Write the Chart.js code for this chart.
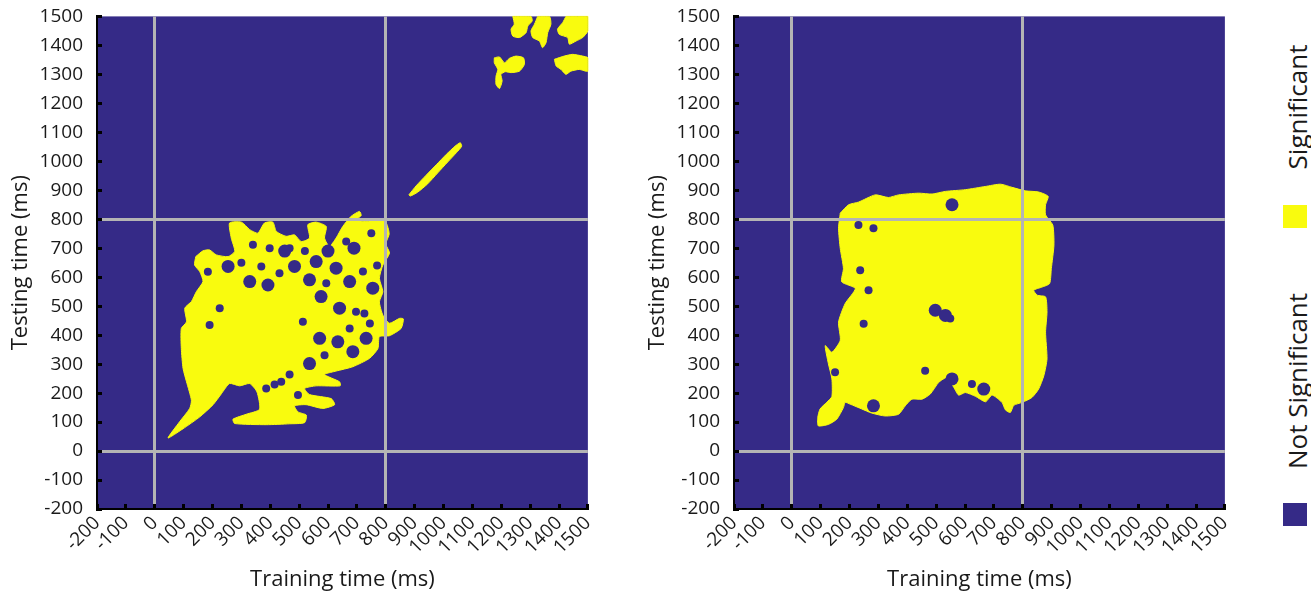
<!DOCTYPE html>
<html>
<head>
<meta charset="utf-8">
<title>Temporal generalization</title>
<script src="https://cdn.jsdelivr.net/npm/chart.js@4.4.1/dist/chart.umd.min.js"></script>
<style>
  body { margin: 0; background: #fff; width: 1311px; height: 592px; position: relative; overflow: hidden; font-family: 'Open Sans', sans-serif; color: #1a1a1a; }
  .panel { position: absolute; top: -14px; width: 612px; height: 607px; }
  #leftPanel { left: 0; }
  #rightPanel { left: 637px; }
  .legendText { position: absolute; white-space: nowrap; font-size: 26px; transform: translate(-50%, -50%) rotate(-90deg); }
  .legendBox { position: absolute; width: 24px; height: 23px; }
</style>
</head>
<body>
<div class="panel" id="leftPanel"><canvas id="leftChart"></canvas></div>
<div class="panel" id="rightPanel"><canvas id="rightChart"></canvas></div>

<div class="legendText" style="left:1297px; top:107px;">Significant</div>
<div class="legendBox" style="left:1283px; top:205px; background:#f9fb0e;"></div>
<div class="legendText" style="left:1297px; top:381px;">Not Significant</div>
<div class="legendBox" style="left:1283px; top:503px; background:#352a87;"></div>

<script>
'use strict';

// axes (ms)
const timeMin = -200;
const timeMax = 1500;
const tickStep = 100;
const markerTimes = [0, 800];

const sigColor = '#f9fb0e';
const notSigColor = '#352a87';

// left panel: significant clusters, [training, testing]
const leftMainBlob = [
    [142, 671], [167, 691], [190, 694], [213, 677], [254, 671], [277, 689], [265, 735], [259, 787],
    [300, 790], [329, 764], [357, 752], [380, 787], [409, 790], [421, 758], [455, 741], [484, 746],
    [507, 723], [536, 735], [530, 781], [559, 790], [594, 775], [588, 735], [605, 706], [628, 735],
    [651, 775], [680, 810], [709, 827], [715, 813], [698, 798], [732, 792], [767, 798], [799, 792],
    [812, 750], [800, 715], [813, 683], [790, 642], [778, 596], [790, 550], [778, 515], [790, 469],
    [813, 441], [848, 458], [861, 456], [853, 423], [813, 398], [778, 395], [773, 354], [744, 320],
    [686, 291], [628, 276], [588, 264], [640, 239], [642, 225], [559, 225], [519, 216], [536, 195],
    [611, 181], [623, 160], [582, 147], [524, 160], [484, 156], [496, 135], [525, 124], [519, 98],
    [467, 94], [386, 91], [277, 95], [271, 110], [317, 127], [363, 144], [354, 204], [329, 233],
    [294, 225], [259, 233], [231, 198], [202, 160], [156, 118], [98, 77], [46, 45], [86, 101],
    [121, 147], [127, 175], [110, 239], [98, 285], [92, 354], [92, 423], [110, 446], [104, 493],
    [127, 516], [144, 550], [167, 585], [156, 619], [138, 642], [142, 671]
];
const leftDiagonal = [
    [880, 884], [905, 915], [940, 952], [975, 988], [1010, 1024], [1040, 1052], [1058, 1064],
    [1063, 1052], [1045, 1030], [1015, 998], [980, 960], [945, 922], [910, 893], [885, 880], [880, 884]
];
const leftLateY = [
    [1176, 1357], [1194, 1360], [1211, 1340], [1228, 1355], [1251, 1363], [1277, 1357], [1280, 1334],
    [1263, 1311], [1234, 1306], [1214, 1309], [1199, 1300], [1203, 1277], [1194, 1251], [1182, 1265],
    [1182, 1294], [1188, 1317], [1176, 1340], [1176, 1357]
];
const leftLateA = [
    [1240, 1500], [1303, 1500], [1307, 1484], [1292, 1467], [1286, 1444], [1263, 1427], [1240, 1432],
    [1234, 1456], [1245, 1473], [1240, 1500]
];
const leftLateB = [
    [1326, 1500], [1367, 1500], [1372, 1473], [1361, 1444], [1355, 1409], [1343, 1392], [1332, 1415],
    [1309, 1427], [1303, 1450], [1315, 1473], [1326, 1500]
];
const leftLateC = [
    [1424, 1500], [1500, 1500], [1500, 1450], [1482, 1427], [1459, 1415], [1436, 1404], [1430, 1427],
    [1401, 1438], [1395, 1456], [1413, 1479], [1424, 1500]
];
const leftLateD = [
    [1384, 1352], [1418, 1363], [1447, 1369], [1482, 1363], [1500, 1357], [1500, 1311], [1470, 1317],
    [1441, 1311], [1424, 1300], [1407, 1317], [1390, 1329], [1384, 1352]
];
// non-significant gaps inside the left cluster
const leftHolesBig = [
    [254, 637], [329, 585], [392, 573], [484, 637], [536, 591], [559, 654], [628, 631], [675, 585],
    [755, 562], [576, 533], [640, 493], [571, 389], [634, 377], [686, 343], [536, 302], [732, 389],
    [600, 690], [690, 700], [450, 690]
];
const leftHolesSmall = [
    [184, 619], [369, 637], [432, 614], [594, 579], [721, 620], [697, 481], [467, 700], [340, 712],
    [398, 700], [750, 752], [663, 723], [225, 493], [588, 331], [467, 264], [438, 239], [386, 216],
    [496, 193], [190, 435], [513, 446], [675, 423], [726, 475], [300, 650], [770, 640], [520, 690],
    [745, 440], [415, 230]
];

// right panel
const rightMainBlob = [
    [168, 821], [197, 850], [231, 859], [289, 884], [335, 875], [370, 884], [439, 890], [486, 887],
    [532, 896], [601, 902], [670, 913], [723, 921], [763, 910], [809, 898], [855, 894], [888, 879],
    [879, 850], [879, 815], [904, 780], [908, 711], [899, 630], [893, 578], [867, 566], [838, 555],
    [850, 538], [879, 532], [884, 480], [879, 410], [884, 318], [873, 260], [855, 214], [832, 185],
    [798, 168], [769, 158], [757, 133], [740, 142], [728, 168], [694, 193], [671, 170], [636, 189],
    [601, 202], [578, 193], [561, 220], [538, 254], [509, 237], [480, 197], [451, 179], [416, 179],
    [393, 156], [370, 127], [324, 121], [277, 131], [243, 145], [202, 162], [185, 168], [179, 150],
    [156, 110], [127, 92], [92, 87], [90, 115], [98, 145], [121, 168], [139, 188], [139, 249],
    [127, 301], [116, 364], [139, 341], [168, 382], [162, 445], [185, 509], [220, 561], [173, 584],
    [179, 630], [168, 699], [162, 769], [168, 821]
];
const rightHolesBig = [
    [555, 850], [497, 486], [532, 468], [555, 249], [283, 156], [665, 214]
];
const rightHolesSmall = [
    [283, 769], [231, 780], [266, 555], [249, 439], [549, 457], [462, 277], [624, 231], [150, 272], [237, 624]
];

// fill the plot area with the "not significant" colour
const matrixBackground = {
    id: 'matrixBackground',
    beforeDatasetsDraw(chart) {
        const {ctx, chartArea} = chart;
        ctx.save();
        ctx.fillStyle = notSigColor;
        ctx.fillRect(chartArea.left, chartArea.top, chartArea.width, chartArea.height);
        ctx.restore();
    }
};

function axisOptions(titleText, isX) {
    return {
        type: 'linear',
        min: timeMin,
        max: timeMax,
        ticks: {
            stepSize: tickStep,
            autoSkip: false,
            minRotation: isX ? 45 : 0,
            maxRotation: isX ? 45 : 0,
            padding: isX ? 8 : 19,
            color: '#1a1a1a',
            font: {family: 'Open Sans', size: 19},
            callback: (v) => String(v)
        },
        grid: {
            z: 1,
            color: (ctx) => (ctx.tick && markerTimes.includes(ctx.tick.value)) ? '#b4b4b4' : 'rgba(0,0,0,0)',
            lineWidth: 3,
            tickColor: '#000',
            tickWidth: 3,
            tickLength: -5
        },
        border: {color: '#000', width: 2, z: 2},
        title: {
            display: true,
            text: titleText,
            color: '#1a1a1a',
            font: {family: 'Open Sans', size: 22},
            padding: isX ? {top: 0, bottom: 0} : {top: 8, bottom: 0}
        },
        afterFit: (scale) => {
            if (isX) {
                scale.height = 84;
            } else {
                scale.width = 97;
            }
        }
    };
}

function buildChart(canvasId, blobs, holesBig, holesSmall) {
    const datasets = [];
    datasets.push({data: holesBig, pointRadius: 6.5, backgroundColor: notSigColor, borderWidth: 0, order: 1});
    datasets.push({data: holesSmall, pointRadius: 4, backgroundColor: notSigColor, borderWidth: 0, order: 1});
    for (let i = 0; i < blobs.length; i++) {
        datasets.push({
            data: blobs[i],
            showLine: true,
            fill: 'shape',
            tension: 0.2,
            clip: false,
            borderColor: sigColor,
            backgroundColor: sigColor,
            borderWidth: 1,
            pointRadius: 0,
            order: 2
        });
    }
    return new Chart(document.getElementById(canvasId), {
        type: 'scatter',
        data: {datasets: datasets},
        options: {
            responsive: true,
            maintainAspectRatio: false,
            animation: false,
            layout: {padding: {top: 2, right: 0, bottom: 0, left: 0}},
            plugins: {legend: {display: false}, tooltip: {enabled: false}},
            scales: {
                x: axisOptions('Training time (ms)', true),
                y: axisOptions('Testing time (ms)', false)
            }
        },
        plugins: [matrixBackground]
    });
}

buildChart('leftChart', [leftMainBlob, leftDiagonal, leftLateY, leftLateA, leftLateB, leftLateC, leftLateD], leftHolesBig, leftHolesSmall);
buildChart('rightChart', [rightMainBlob], rightHolesBig, rightHolesSmall);
</script>
</body>
</html>
